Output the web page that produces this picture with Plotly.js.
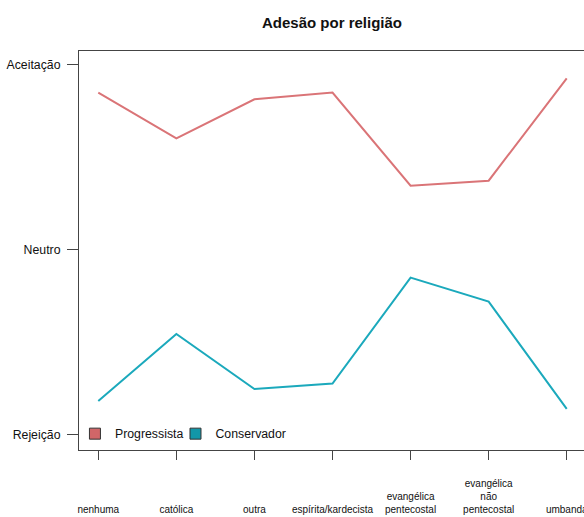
<!DOCTYPE html>
<html>
<head>
<meta charset="utf-8">
<script src="https://cdn.plot.ly/plotly-3.0.1.min.js"></script>
<style>
html, body { margin: 0; padding: 0; overflow: hidden; background: #fff; }
#chart { width: 590px; height: 517px; }
</style>
</head>
<body>
<div id="chart"></div>
<script>
// ---- data ----
const categories = ['nenhuma', 'católica', 'outra', 'espírita/kardecista',
  'evangélica pentecostal', 'evangélica não pentecostal', 'umbanda'];
const categoryLabels = ['nenhuma', 'católica', 'outra', 'espírita/kardecista',
  'evangélica<br>pentecostal', 'evangélica<br>não<br>pentecostal', 'umbanda'];
const progressista = [0.848, 0.601, 0.812, 0.848, 0.345, 0.372, 0.925];
const conservador = [-0.819, -0.457, -0.754, -0.725, -0.152, -0.282, -0.862];
const yTickValues = [-1, 0, 1];
const yTickLabels = ['Rejeição', 'Neutro', 'Aceitação'];
const seriesNames = ['Progressista', 'Conservador'];

// ---- styling ----
const FONT = '"Liberation Sans", Arial, sans-serif';
const lineColors = ['#DA7477', '#1BA9BC'];
const boxColors = ['#D06668', '#1297A8'];

// pad tick labels with leading blank lines so they are bottom-aligned
const maxLines = Math.max(...categoryLabels.map(l => l.split('<br>').length));
const paddedLabels = categoryLabels.map(l => {
  const n = l.split('<br>').length;
  return ' <br>'.repeat(maxLines - n) + l;
});

const traces = [
  { x: categories, y: progressista, type: 'scatter', mode: 'lines',
    line: { color: lineColors[0], width: 2 }, showlegend: false, name: seriesNames[0] },
  { x: categories, y: conservador, type: 'scatter', mode: 'lines',
    line: { color: lineColors[1], width: 2 }, showlegend: false, name: seriesNames[1] },
  { x: [null], y: [null], type: 'scatter', mode: 'markers', name: seriesNames[0], legend: 'legend',
    marker: { symbol: 'square', size: 11, color: boxColors[0], line: { color: '#333', width: 1 } } },
  { x: [null], y: [null], type: 'scatter', mode: 'markers', name: seriesNames[1], legend: 'legend2',
    marker: { symbol: 'square', size: 11, color: boxColors[1], line: { color: '#333', width: 1 } } }
];

const legendFont = { family: FONT, size: 12.3, color: '#111' };

const layout = {
  width: 590, height: 517,
  margin: { l: 79, r: 5, t: 51, b: 67 },
  paper_bgcolor: '#fff', plot_bgcolor: '#fff',
  font: { family: FONT, color: '#111' },
  title: { text: '<b>Adesão por religião</b>', font: { family: FONT, size: 15, color: '#111' },
           x: 0.5, xref: 'paper', xanchor: 'center', y: 1, yref: 'container', yanchor: 'top', pad: { t: 17 } },
  showlegend: true,
  legend: { orientation: 'h', x: -0.008, xanchor: 'left', y: 0.041, yanchor: 'middle',
            bgcolor: 'rgba(0,0,0,0)', font: legendFont, itemwidth: 30 },
  legend2: { orientation: 'h', x: 0.1907, xanchor: 'left', y: 0.041, yanchor: 'middle',
             bgcolor: 'rgba(0,0,0,0)', font: legendFont, itemwidth: 30 },
  xaxis: {
    type: 'category', categoryorder: 'array', categoryarray: categories,
    range: [-0.247, 6.234], tickmode: 'array', tickvals: categories, ticktext: paddedLabels,
    showgrid: false, zeroline: false, showline: true, mirror: true, linecolor: '#444', linewidth: 1,
    ticks: 'outside', ticklen: 9, tickcolor: '#444', tickwidth: 1, ticklabelstandoff: 15,
    tickfont: { family: FONT, size: 10, color: '#111' }, tickangle: 0, fixedrange: true
  },
  yaxis: {
    range: [-1.084, 1.073], tickmode: 'array', tickvals: yTickValues, ticktext: yTickLabels,
    showgrid: false, zeroline: false, showline: true, mirror: true, linecolor: '#444', linewidth: 1,
    ticks: 'outside', ticklen: 11, tickcolor: '#444', tickwidth: 1, ticklabelstandoff: 4,
    tickfont: { family: FONT, size: 12.3, color: '#111' }, fixedrange: true
  },
  hovermode: false
};

Plotly.newPlot('chart', traces, layout, { staticPlot: true, displayModeBar: false });
</script>
</body>
</html>
